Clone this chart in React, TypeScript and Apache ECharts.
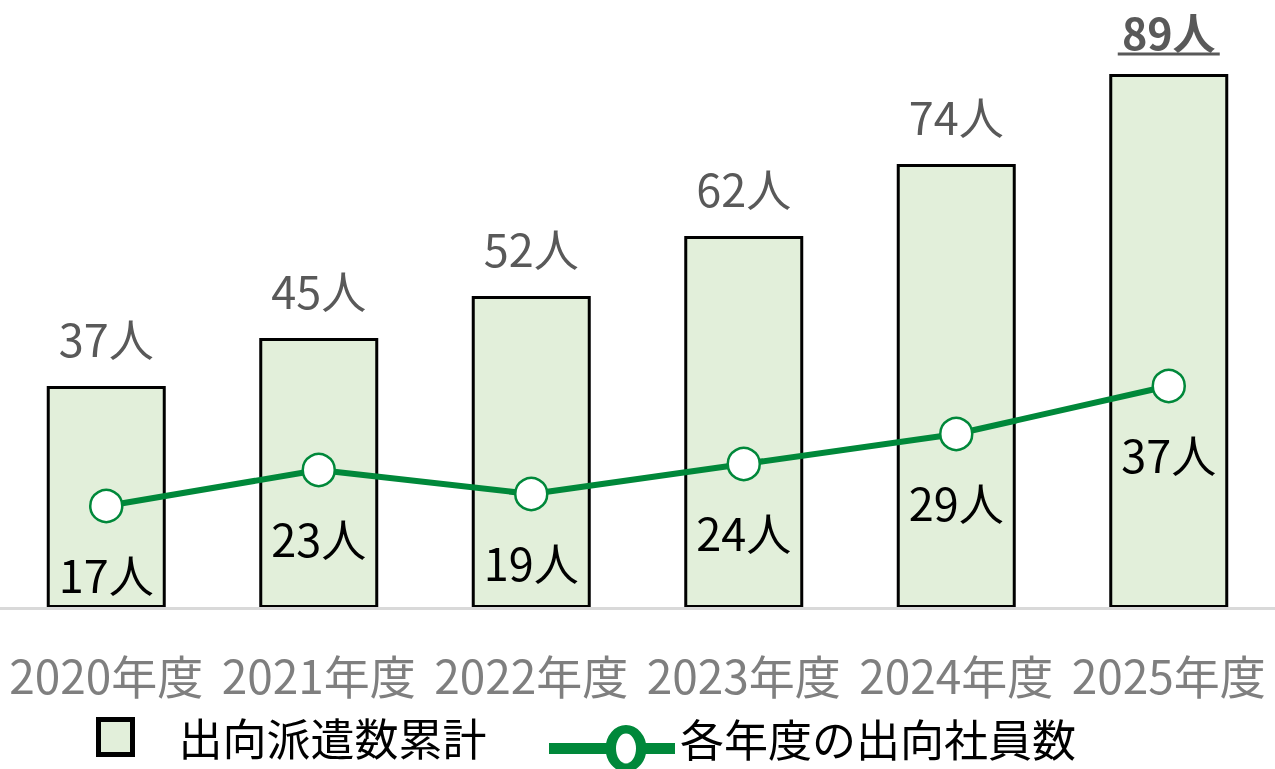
import React, { useEffect, useRef } from "react";
import * as echarts from "echarts";

const categories = ["2020年度", "2021年度", "2022年度", "2023年度", "2024年度", "2025年度"];
const cumulativeValues = [37, 45, 52, 62, 74, 89];
const yearlyValues = [17, 23, 19, 24, 29, 37];
const barSeriesName = "出向派遣数累計";
const lineSeriesName = "各年度の出向社員数";
const unit = "人";

const FONT = "'Noto Sans CJK JP', 'Noto Sans', sans-serif";

// legend icon for the line series: line with a ring placed right of centre.
// A tiny invisible sub-path at the top shifts the drawn part below the text centre.
const LINE_LEGEND_ICON =
  "path://M0 -22 H0.01 V-21.99 H0 Z " +
  "M0 18 H60 V29 H0 Z M94 18 H126 V29 H94 Z " +
  "M77 0 A20.5 23.5 0 1 1 77 47 A20.5 23.5 0 1 1 77 0 Z " +
  "M77 8.5 A10 15 0 1 0 77 38.5 A10 15 0 1 0 77 8.5 Z";

export default function App() {
  const ref = useRef<HTMLDivElement>(null);

  useEffect(() => {
    if (!ref.current) return;
    const chart = echarts.init(ref.current, undefined, { renderer: "svg" });
    const lastIdx = cumulativeValues.length - 1;

    const barData = cumulativeValues.map((v, i) => {
      if (i === lastIdx) {
        return {
          value: v,
          label: {
            formatter: "{a|" + v + unit + "}\n{u|}",
            distance: 17,
            rich: {
              a: {
                fontSize: 43,
                fontWeight: "bold",
                color: "#595959",
                fontFamily: FONT,
                lineHeight: 40,
              },
              u: {
                width: 102,
                height: 3,
                backgroundColor: "#595959",
                lineHeight: 6,
              },
            },
          },
        };
      }
      return v;
    });

    chart.setOption({
      animation: false,
      textStyle: { fontFamily: FONT },
      grid: { left: 0, right: 0, top: 8, bottom: 161, containLabel: false },
      legend: [
        {
          data: [barSeriesName],
          left: 91,
          top: 710,
          icon: "rect",
          itemWidth: 34,
          itemHeight: 35,
          itemStyle: { color: "#E2EFDA", borderColor: "#000000", borderWidth: 5 },
          textStyle: {
            fontSize: 44,
            lineHeight: 44,
            color: "#000000",
            fontFamily: FONT,
            padding: [0, 0, 0, 41],
          },
        },
        {
          data: [lineSeriesName],
          left: 544,
          top: 698,
          icon: LINE_LEGEND_ICON,
          itemWidth: 126,
          itemHeight: 69,
          itemStyle: { color: "#00883A", borderWidth: 0 },
          textStyle: {
            fontSize: 44,
            lineHeight: 44,
            color: "#000000",
            fontFamily: FONT,
          },
        },
      ],
      xAxis: {
        type: "category",
        data: categories,
        z: 10,
        axisLine: { show: true, lineStyle: { color: "#D9D9D9", width: 3 } },
        axisTick: { show: false },
        axisLabel: {
          interval: 0,
          fontSize: 46,
          color: "#7F7F7F",
          fontFamily: FONT,
          margin: 43,
        },
      },
      yAxis: {
        type: "value",
        min: 0,
        max: 100,
        show: false,
        splitLine: { show: false },
      },
      series: [
        {
          name: barSeriesName,
          type: "bar",
          data: barData,
          barWidth: "56%",
          itemStyle: { color: "#E2EFDA", borderColor: "#000000", borderWidth: 3 },
          label: {
            show: true,
            position: "top",
            distance: 26,
            formatter: (p: any) => p.value + unit,
            fontSize: 45,
            color: "#595959",
            fontFamily: FONT,
          },
        },
        {
          name: lineSeriesName,
          type: "line",
          data: yearlyValues,
          symbol: "circle",
          symbolSize: 32,
          lineStyle: { color: "#00883A", width: 6 },
          itemStyle: { color: "#FFFFFF", borderColor: "#00883A", borderWidth: 2.5 },
          label: {
            show: true,
            position: "bottom",
            distance: 28,
            formatter: (p: any) => p.value + unit,
            fontSize: 45,
            color: "#000000",
            fontFamily: FONT,
          },
          z: 5,
        },
      ],
    });

    return () => chart.dispose();
  }, []);

  return (
    <div
      ref={ref}
      style={{ position: "fixed", left: 0, top: 0, width: 1275, height: 769 }}
    />
  );
}
